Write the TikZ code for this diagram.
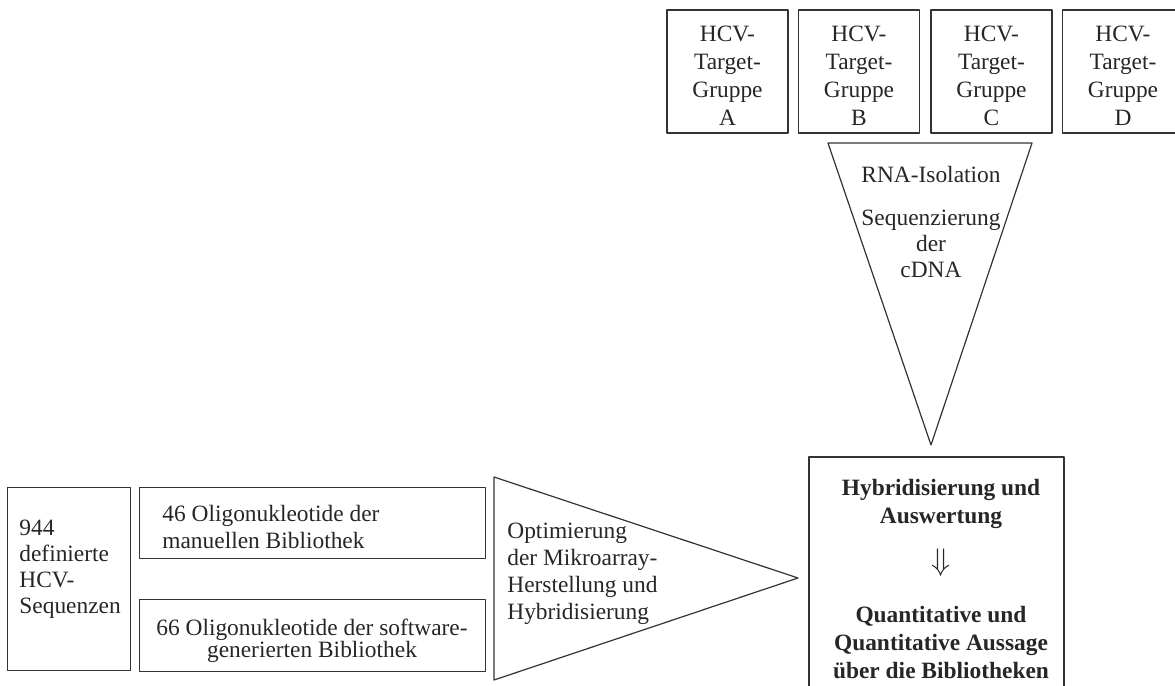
\documentclass[tikz,border=0pt]{standalone}
\usepackage{fontspec}
\setmainfont{Liberation Serif}
\begin{document}
\begin{tikzpicture}[x=0.5pt, y=-0.5pt, line join=round, font=\fontsize{11.7}{14}\selectfont, text=black!85]
	\tikzset{box/.style={draw=black!80, line width=0.6pt, inner sep=0pt, align=center},
		lbl/.style={inner sep=0pt, align=center},
		fett/.style={inner sep=0pt, align=center, font=\fontsize{11.7}{14}\selectfont\bfseries}}
	\useasboundingbox (0,0) rectangle (1175,686);
	% Target-Gruppen oben
	\foreach \g/\x in {A/727.5,B/859,C/991.5,D/1123}
	\node[box, minimum width=60.5pt, minimum height=61.5pt](T\g) at (\x,71.5){};
	\foreach \g in {A,B,C,D}
	\node[lbl](t\g) at ([yshift=-2pt]T\g.center){HCV-\\Target-\\Gruppe\\\g};
	% Trichter nach unten
	\path(828,143)coordinate(d1)(1032,143)coordinate(d2)(931,445)coordinate(d3);
	\draw[black!80, line width=0.6pt](d1)--(d2)--(d3)--cycle;
	\node[lbl](rna) at (931,174){RNA-Isolation};
	\node[lbl, font=\fontsize{11.7}{13}\selectfont](seq) at (931,244){Sequenzierung\\der\\cDNA};
	% Sequenzen links
	\node[box, minimum width=61.5pt, minimum height=91.5pt, anchor=north west](hcv) at (7,487){};
	\node[lbl, align=left, anchor=west, font=\fontsize{11.7}{13}\selectfont](hcvt) at (19,569){944\\definierte\\HCV-\\Sequenzen};
	\node[box, minimum width=173pt, minimum height=35.5pt, anchor=north west](man) at (139,487){};
	\node[lbl, align=left, anchor=west, font=\fontsize{11.7}{13.5}\selectfont](mant) at (162,526.5){46 Oligonukleotide der\\manuellen Bibliothek};
	\node[box, minimum width=173pt, minimum height=36pt, anchor=north west](soft) at (139,599){};
	\node[lbl, font=\fontsize{11.7}{11}\selectfont](softt) at (312,641){66 Oligonukleotide der software-\\generierten Bibliothek};
	% Trichter nach rechts
	\path(494,477)coordinate(r1)(494,680)coordinate(r2)(798,578)coordinate(r3);
	\draw[black!80, line width=0.6pt](r1)--(r3)--(r2)--cycle;
	\node[lbl, align=left, anchor=west, font=\fontsize{11.7}{13.5}\selectfont](opt) at (507,574){Optimierung\\der Mikroarray-\\Herstellung und\\Hybridisierung};
	% Ergebnis
	\node[box, line width=1.2pt, minimum width=127.5pt, minimum height=125pt, anchor=north west](erg) at (808,456){};
	\node[fett](hyb) at (941,504){Hybridisierung und\\Auswertung};
	\node[lbl](pfeil) at (941,563){\scalebox{1.3}{$\Downarrow$}};
	\node[fett](aus) at (941,643){Quantitative und\\Quantitative Aussage\\über die Bibliotheken};
\end{tikzpicture}
\end{document}
